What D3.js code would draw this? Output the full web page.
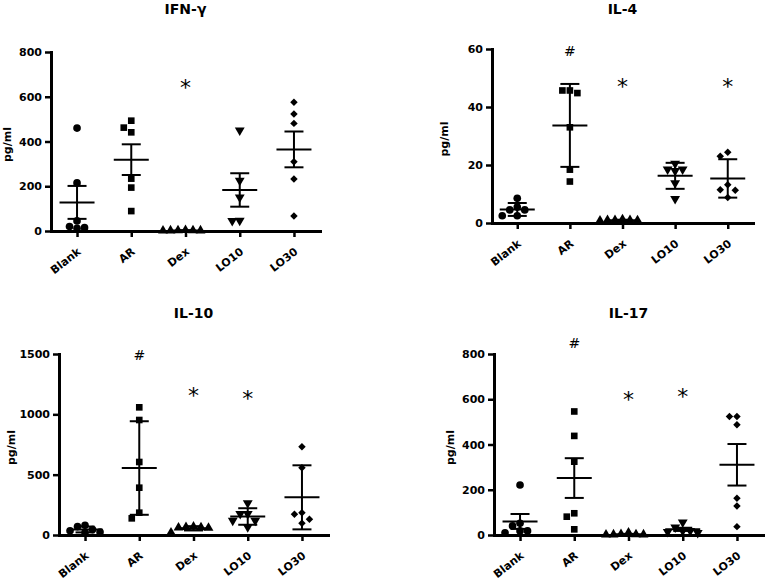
<!DOCTYPE html>
<html>
<head>
<meta charset="utf-8">
<script src="https://cdn.jsdelivr.net/npm/d3@7"></script>
<style>
  body { margin: 0; background: #fff; }
  svg { display: block; }
  text { font-family: "DejaVu Sans", sans-serif; fill: #000; }
</style>
</head>
<body>
<svg width="765" height="581"></svg>
<script>
// groups on every x axis
var groups = ["Blank", "AR", "Dex", "LO10", "LO30"];

// values, one array per group
var ifnValues = [
  [460, 215, 45, 20, 15, 12],
  [493, 462, 441, 234, 194, 89],
  [4, 3, 3, 2, 2, 1],
  [450, 225, 150, 47, 45],
  [575, 523, 481, 310, 232, 67]
];
var il4Values = [
  [8.5, 5.5, 4.5, 4.5, 2.5, 2.5],
  [45.7, 45.7, 44.8, 33, 18.4, 14.3],
  [1.2, 1, 1, 1, 0.8, 0.9],
  [20.5, 18.5, 18.5, 18, 13.8, 8.3],
  [24.4, 23, 13.2, 11.5, 11.3, 8.8]
];
var il10Values = [
  [80, 70, 45, 35, 25, 20],
  [1058, 953, 605, 392, 185, 138],
  [68, 65, 62, 60, 58, 20],
  [265, 175, 175, 120, 120, 65],
  [732, 558, 185, 171, 130, 97]
];
var il17Values = [
  [221, 52, 40, 18, 18, 10],
  [546, 438, 324, 96, 81, 25],
  [10, 4, 3, 2, 2, 1],
  [56, 34, 18, 18, 14, 10],
  [524, 524, 487, 162, 128, 37]
];

var ifnTicks = [0, 200, 400, 600, 800];
var il4Ticks = [0, 20, 40, 60];
var il10Ticks = [0, 500, 1000, 1500];
var il17Ticks = [0, 200, 400, 600, 800];

// significance marks and the value they sit at
var ifnMarks = ["", "", "*", "", ""];
var ifnMarkAt = [0, 0, 661, 0, 0];
var il4Marks = ["", "#", "*", "", "*"];
var il4MarkAt = [0, 59.2, 48.5, 0, 48.5];
var il10Marks = ["", "#", "*", "*", ""];
var il10MarkAt = [0, 1492, 1196, 1168, 0];
var il17Marks = ["", "#", "*", "*", ""];
var il17MarkAt = [0, 849, 620, 634, 0];

var panels = [
  { title: "IFN-γ", values: ifnValues, ticks: ifnTicks, marks: ifnMarks, markAt: ifnMarkAt, err: "sem",
    left: 51, right: 320, top: 52, bottom: 231, titleY: 14, labelX: 11 },
  { title: "IL-4", values: il4Values, ticks: il4Ticks, marks: il4Marks, markAt: il4MarkAt, err: "sd",
    left: 492, right: 753, top: 49, bottom: 223, titleY: 14, labelX: 448 },
  { title: "IL-10", values: il10Values, ticks: il10Ticks, marks: il10Marks, markAt: il10MarkAt, err: "sd",
    left: 59, right: 328, top: 354, bottom: 535, titleY: 318, labelX: 15 },
  { title: "IL-17", values: il17Values, ticks: il17Ticks, marks: il17Marks, markAt: il17MarkAt, err: "sem",
    left: 494, right: 763, top: 354, bottom: 535, titleY: 318, labelX: 454 }
];

var shapes = [
  { type: d3.symbolCircle, size: 46, rot: 0 },
  { type: d3.symbolSquare, size: 44, rot: 0 },
  { type: d3.symbolTriangle, size: 42, rot: 0 },
  { type: d3.symbolTriangle, size: 42, rot: 180 },
  { type: d3.symbolSquare, size: 28, rot: 45 }
];

var svg = d3.select("svg");

panels.forEach(function(p) {
  var x = d3.scalePoint()
    .domain(groups)
    .range([p.left, p.right])
    .padding(0.48);

  var y = d3.scaleLinear()
    .domain([0, d3.max(p.ticks)])
    .range([p.bottom, p.top]);

  var g = svg.append("g");

  // title
  g.append("text")
    .attr("x", (p.left + p.right) / 2)
    .attr("y", p.titleY)
    .attr("text-anchor", "middle")
    .style("font-size", "14px")
    .style("font-weight", "bold")
    .text(p.title);

  // y label
  g.append("text")
    .attr("transform", "translate(" + p.labelX + "," + ((p.top + p.bottom) / 2 + 3) + ") rotate(-90)")
    .attr("text-anchor", "middle")
    .style("font-size", "11px")
    .style("font-weight", "bold")
    .text("pg/ml");

  // points, pushed sideways when they overlap
  groups.forEach(function(name, gi) {
    var placed = [];
    var sorted = p.values[gi].slice().sort(d3.descending);
    sorted.forEach(function(v) {
      var py = y(v);
      var offs = [0, -7.5, 7.5, -15, 15, -22.5, 22.5, -30, 30];
      var dx = offs.find(function(o) {
        return placed.every(function(q) {
          return Math.hypot(q.dx - o, q.py - py) >= 7;
        });
      });
      placed.push({ v: v, dx: dx, py: py });
    });

    var sh = shapes[gi];
    g.selectAll(".pt" + gi)
      .data(placed)
      .enter()
      .append("path")
      .attr("d", d3.symbol().type(sh.type).size(sh.size))
      .attr("transform", function(d) {
        return "translate(" + (x(name) + d.dx) + "," + d.py + ") rotate(" + sh.rot + ")";
      })
      .attr("fill", "#000");

    // mean and error bar
    var vals = p.values[gi];
    var m = d3.mean(vals);
    var sd = d3.deviation(vals);
    var e = p.err == "sem" ? sd / Math.sqrt(vals.length) : sd;
    var cx = x(name);

    var bars = g.append("g")
      .attr("stroke", "#000")
      .attr("stroke-width", 2);
    bars.append("line")
      .attr("x1", cx).attr("x2", cx)
      .attr("y1", y(m + e)).attr("y2", y(Math.max(m - e, 0)));
    bars.append("line")
      .attr("x1", cx - 9.5).attr("x2", cx + 9.5)
      .attr("y1", y(m + e)).attr("y2", y(m + e));
    bars.append("line")
      .attr("x1", cx - 9.5).attr("x2", cx + 9.5)
      .attr("y1", y(m - e)).attr("y2", y(m - e));
    bars.append("line")
      .attr("x1", cx - 17.5).attr("x2", cx + 17.5)
      .attr("y1", y(m)).attr("y2", y(m));

    // significance mark
    if (p.marks[gi]) {
      var star = p.marks[gi] == "*";
      g.append("text")
        .attr("x", cx)
        .attr("y", y(p.markAt[gi]) + (star ? 12 : 5))
        .attr("text-anchor", "middle")
        .style("font-size", star ? "22px" : "14px")
        .text(p.marks[gi]);
    }
  });

  // axes
  var yAxis = g.append("g")
    .attr("transform", "translate(" + p.left + ",0)")
    .call(d3.axisLeft(y).tickValues(p.ticks).tickFormat(d3.format("d"))
      .tickSize(6).tickPadding(3).tickSizeOuter(0));

  var xAxis = g.append("g")
    .attr("transform", "translate(0," + p.bottom + ")")
    .call(d3.axisBottom(x).tickSize(6).tickSizeOuter(0));

  xAxis.selectAll(".tick text")
    .attr("x", null)
    .attr("y", null)
    .attr("dy", null)
    .attr("text-anchor", "end")
    .attr("transform", "translate(4,22) rotate(-38)");

  [yAxis, xAxis].forEach(function(a) {
    a.select(".domain")
      .attr("stroke-width", 3)
      .attr("stroke-linecap", "square");
    a.selectAll(".tick line").attr("stroke-width", 2.5);
    a.selectAll(".tick text")
      .style("font-size", "11px")
      .style("font-weight", "bold")
      .style("font-family", "DejaVu Sans, sans-serif")
      .attr("fill", "#000");
  });
});
</script>
</body>
</html>
